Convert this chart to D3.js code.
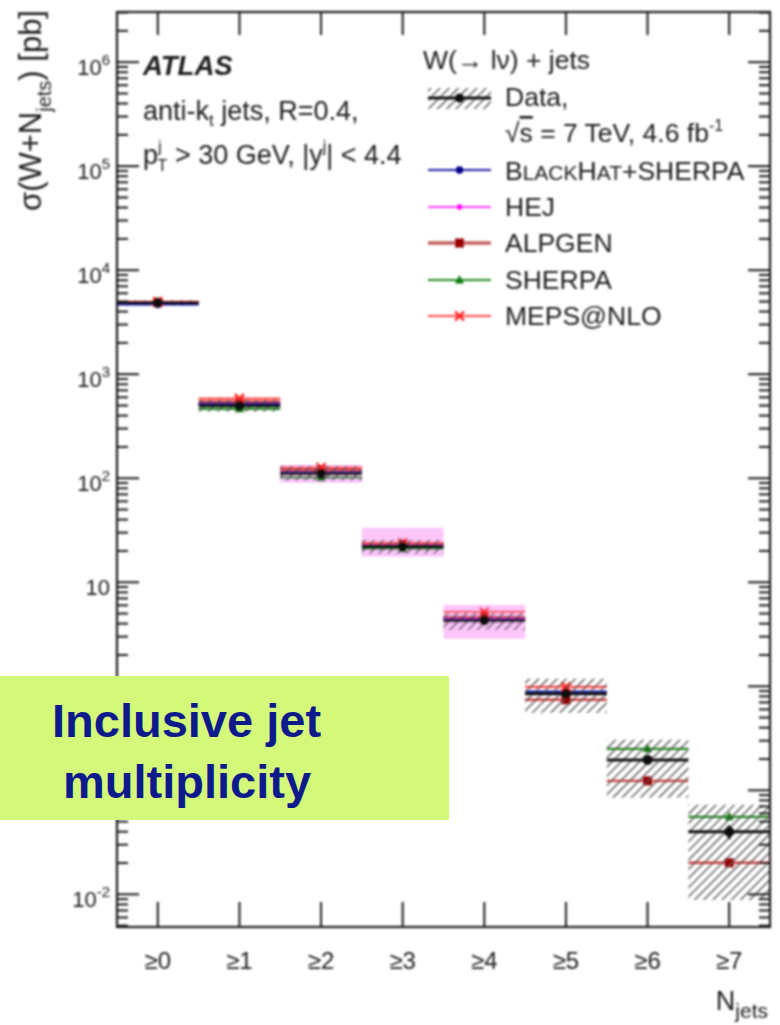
<!DOCTYPE html>
<html>
<head>
<meta charset="utf-8">
<script src="https://cdn.jsdelivr.net/npm/d3@7"></script>
<style>
  body { margin: 0; background: #fff; }
  svg { display: block; }
</style>
</head>
<body>
<svg id="chart" width="780" height="1025"></svg>
<script>
// Inclusive W(->lv)+jets cross sections vs. jet multiplicity
const categories = ["≥0", "≥1", "≥2", "≥3", "≥4", "≥5", "≥6", "≥7"];

// Measured cross sections [pb] and the edges of the systematic band
const dataXsec    = [4800, 492, 109, 21.7, 4.22, 0.838, 0.194, 0.0395];
const dataSysUp   = [5050, 560, 130, 25.3, 5.0, 1.17, 0.303, 0.0718];
const dataSysDown = [4560, 432, 94, 18.6, 3.45, 0.55, 0.084, 0.00875];
const dataStatRel = [0.002, 0.004, 0.008, 0.015, 0.03, 0.06, 0.09, 0.15];

// Theory predictions [pb]
const blackhatSherpa = [4650, 515, 112, 22.2, 4.31, 0.875, null, null];
const hej            = [null, null, 110, 23.5, 4.4, null, null, null];
const hejUp          = [null, null, 133, 33, 6.0, null, null, null];
const hejDown        = [null, null, 89.5, 17.4, 2.83, null, null, null];
const alpgen         = [4850, 538, 119, 23.2, 4.6, 0.733, 0.122, 0.0199];
const sherpa         = [4750, 460, 100, 20.7, 4.4, 0.86, 0.248, 0.055];
const mepsNlo        = [4900, 575, 125, 23.7, 5.15, 0.978, null, null];

// Axis ticks and the labelled decades
const yMajorTicks = [1e-2, 1e-1, 1, 10, 1e2, 1e3, 1e4, 1e5, 1e6];
const yLabelTicks = [1e-2, 10, 1e2, 1e3, 1e4, 1e5, 1e6];
const yLabelBase  = ["10", "10", "10", "10", "10", "10", "10"];
const yLabelExp   = ["-2", "", "2", "3", "4", "5", "6"];
const yMin = 4.8e-3, yMax = 3e6;

const FONT = "'Liberation Sans', Arial, Helvetica, sans-serif";
const INK = "#1c1c1c";
const plot = { left: 117, right: 770, top: 12, bottom: 927 };

const svg = d3.select("#chart");
const defs = svg.append("defs");
defs.append("filter").attr("id", "soft")
  .attr("x", "-5%").attr("y", "-5%").attr("width", "110%").attr("height", "110%")
  .append("feGaussianBlur").attr("stdDeviation", 0.8);
const hatch = defs.append("pattern").attr("id", "hatch")
  .attr("patternUnits", "userSpaceOnUse")
  .attr("width", 6.5).attr("height", 6.5)
  .attr("patternTransform", "rotate(45)");
hatch.append("line").attr("x1", 3).attr("y1", 0).attr("x2", 3).attr("y2", 6.5)
  .attr("stroke", "#4a4a4a").attr("stroke-width", 1.3);

const x = d3.scaleBand().domain(categories).range([plot.left, plot.right]).padding(0);
const y = d3.scaleLog().domain([yMin, yMax]).range([plot.bottom, plot.top]);
const bw = x.bandwidth();
const idx = d3.range(categories.length);

const g = svg.append("g").attr("filter", "url(#soft)").attr("font-family", FONT);

// HEJ uncertainty band
g.append("g").selectAll("rect")
  .data(idx.filter(i => hejUp[i] != null))
  .join("rect")
  .attr("x", i => x(categories[i])).attr("width", bw)
  .attr("y", i => y(hejUp[i]))
  .attr("height", i => y(hejDown[i]) - y(hejUp[i]))
  .attr("fill", "#fcc6fb");

// Theory predictions
const theories = [
  { values: sherpa, line: "#1f8a1f", fill: "#0a7a0a", marker: "triangle", width: 2.2 },
  { values: alpgen, line: "#cc4040", fill: "#9a0000", marker: "square", width: 2.4 },
  { values: hej, line: "#ff3cff", fill: "#ff00ff", marker: "dot", width: 2.2 },
  { values: blackhatSherpa, line: "#1c1ca8", fill: "#00008a", marker: "circle", width: 2.6 },
  { values: mepsNlo, line: "#ff4a4a", fill: "#ff1a1a", marker: "cross", width: 2.2 }
];

function drawMarker(sel, type, fill, cx, cy) {
  if (type === "circle") {
    sel.append("circle").attr("cx", cx).attr("cy", cy).attr("r", 3.8).attr("fill", fill);
  } else if (type === "dot") {
    sel.append("circle").attr("cx", cx).attr("cy", cy).attr("r", 2.8).attr("fill", fill);
  } else if (type === "square") {
    sel.append("rect").attr("x", cx - 4.5).attr("y", cy - 4.5).attr("width", 9).attr("height", 9).attr("fill", fill);
  } else if (type === "triangle") {
    sel.append("path").attr("d", `M${cx},${cy - 5}L${cx + 4.5},${cy + 3.5}L${cx - 4.5},${cy + 3.5}Z`).attr("fill", fill);
  } else if (type === "cross") {
    sel.append("path").attr("d", `M${cx - 4.5},${cy - 4.5}L${cx + 4.5},${cy + 4.5}M${cx + 4.5},${cy - 4.5}L${cx - 4.5},${cy + 4.5}`)
      .attr("stroke", fill).attr("stroke-width", 2.4);
  }
}

theories.forEach(t => {
  const tg = g.append("g");
  const pts = idx.filter(i => t.values[i] != null);
  tg.selectAll("line").data(pts).join("line")
    .attr("x1", i => x(categories[i])).attr("x2", i => x(categories[i]) + bw)
    .attr("y1", i => y(t.values[i])).attr("y2", i => y(t.values[i]))
    .attr("stroke", t.line).attr("stroke-width", t.width);
  pts.forEach(i => drawMarker(tg, t.marker, t.fill, x(categories[i]) + bw / 2, y(t.values[i])));
});

// Data: systematic band, central value, statistical error
const dg = g.append("g");
dg.selectAll("rect.sys").data(idx).join("rect").attr("class", "sys")
  .attr("x", i => x(categories[i])).attr("width", bw)
  .attr("y", i => y(dataSysUp[i]))
  .attr("height", i => y(dataSysDown[i]) - y(dataSysUp[i]))
  .attr("fill", "url(#hatch)");
dg.selectAll("line.val").data(idx).join("line").attr("class", "val")
  .attr("x1", i => x(categories[i])).attr("x2", i => x(categories[i]) + bw)
  .attr("y1", i => y(dataXsec[i])).attr("y2", i => y(dataXsec[i]))
  .attr("stroke", "#111").attr("stroke-width", 3);
dg.selectAll("line.stat").data(idx).join("line").attr("class", "stat")
  .attr("x1", i => x(categories[i]) + bw / 2).attr("x2", i => x(categories[i]) + bw / 2)
  .attr("y1", i => y(dataXsec[i] * (1 + dataStatRel[i])))
  .attr("y2", i => y(dataXsec[i] * (1 - dataStatRel[i])))
  .attr("stroke", "#111").attr("stroke-width", 3);
dg.selectAll("circle").data(idx).join("circle")
  .attr("cx", i => x(categories[i]) + bw / 2).attr("cy", i => y(dataXsec[i]))
  .attr("r", 5).attr("fill", "#111");

// Axes and frame
const minorTicks = [];
for (let e = -3; e <= 6; e++) {
  for (let k = 2; k <= 9; k++) {
    const v = k * Math.pow(10, e);
    if (v >= yMin && v <= yMax) minorTicks.push(v);
  }
}
function styleAxis(sel) {
  sel.select(".domain").remove();
  sel.selectAll(".tick line").attr("stroke", INK).attr("stroke-width", 2);
}
g.append("g").attr("transform", `translate(${plot.left},0)`)
  .call(d3.axisLeft(y).tickValues(yMajorTicks).tickSize(-22).tickFormat("")).call(styleAxis);
g.append("g").attr("transform", `translate(${plot.left},0)`)
  .call(d3.axisLeft(y).tickValues(minorTicks).tickSize(-11).tickFormat("")).call(styleAxis);
g.append("g").attr("transform", `translate(${plot.right},0)`)
  .call(d3.axisRight(y).tickValues(yMajorTicks).tickSize(-22).tickFormat("")).call(styleAxis);
g.append("g").attr("transform", `translate(${plot.right},0)`)
  .call(d3.axisRight(y).tickValues(minorTicks).tickSize(-11).tickFormat("")).call(styleAxis);
g.append("g").attr("transform", `translate(0,${plot.top})`)
  .call(d3.axisTop(x).tickSize(-23).tickFormat("")).call(styleAxis);
const xAxis = g.append("g").attr("transform", `translate(0,${plot.bottom})`)
  .call(d3.axisBottom(x).tickSize(-25).tickPadding(25)).call(styleAxis);
xAxis.attr("font-family", FONT).attr("font-size", 24);
xAxis.selectAll("text").attr("fill", INK);

g.append("rect")
  .attr("x", plot.left).attr("y", plot.top)
  .attr("width", plot.right - plot.left).attr("height", plot.bottom - plot.top)
  .attr("fill", "none").attr("stroke", INK).attr("stroke-width", 2.2);

// Y tick labels with exponents
g.append("g").selectAll("text").data(yLabelTicks).join("text")
  .attr("x", 110).attr("y", d => y(d) + 13)
  .attr("text-anchor", "end").attr("font-size", 22).attr("fill", INK)
  .each(function (d, i) {
    const t = d3.select(this);
    t.append("tspan").text(yLabelBase[i]);
    if (yLabelExp[i]) t.append("tspan").attr("dy", -10).attr("font-size", 15).text(yLabelExp[i]);
  });

// Axis titles
const yTitle = g.append("text")
  .attr("transform", "translate(41,10) rotate(-90)")
  .attr("text-anchor", "end").attr("font-size", 31).attr("fill", INK);
yTitle.append("tspan").text("σ(W+N");
yTitle.append("tspan").attr("dy", 10).attr("font-size", 20).text("jets");
yTitle.append("tspan").attr("dy", -10).text(") [pb]");

const xTitle = g.append("text")
  .attr("x", 768).attr("y", 1010).attr("text-anchor", "end")
  .attr("font-size", 27).attr("fill", INK);
xTitle.append("tspan").text("N");
xTitle.append("tspan").attr("dy", 8).attr("font-size", 21).text("jets");

// Labels in the upper left
g.append("text").attr("x", 143).attr("y", 75)
  .attr("font-size", 27.5).attr("font-weight", "bold").attr("font-style", "italic")
  .attr("fill", INK).text("ATLAS");
const l1 = g.append("text").attr("x", 143).attr("y", 120).attr("font-size", 27).attr("fill", INK);
l1.append("tspan").text("anti-k");
l1.append("tspan").attr("dy", 6).attr("font-size", 17).text("t");
l1.append("tspan").attr("dy", -6).text(" jets, R=0.4,");
const l2 = g.append("text").attr("x", 143).attr("y", 164).attr("font-size", 27).attr("fill", INK);
l2.append("tspan").text("p");
l2.append("tspan").attr("dy", -12).attr("font-size", 16).text("j");
l2.append("tspan").attr("dx", -4).attr("dy", 19).attr("font-size", 16).text("T");
l2.append("tspan").attr("dy", -7).text(" > 30 GeV, |y");
l2.append("tspan").attr("dy", -12).attr("font-size", 16).text("j");
l2.append("tspan").attr("dy", 12).text("| < 4.4");

// Legend
const lg = g.append("g").attr("font-size", 26.5).attr("fill", INK);
lg.append("text").attr("x", 423).attr("y", 69).text("W(→ lν) + jets");
const lx0 = 428, lx1 = 491, lmid = 459.5, ltx = 505;
lg.append("rect").attr("x", lx0).attr("y", 88).attr("width", lx1 - lx0).attr("height", 21).attr("fill", "url(#hatch)");
lg.append("line").attr("x1", lx0).attr("x2", lx1).attr("y1", 98).attr("y2", 98).attr("stroke", "#111").attr("stroke-width", 3);
lg.append("circle").attr("cx", lmid).attr("cy", 98).attr("r", 4.5).attr("fill", "#111");
lg.append("text").attr("x", ltx).attr("y", 106).text("Data,");
const sq = lg.append("text").attr("x", ltx).attr("y", 142);
sq.append("tspan").text("√");
sq.append("tspan").attr("text-decoration", "overline").text("s");
sq.append("tspan").text(" = 7 TeV, 4.6 fb");
sq.append("tspan").attr("dy", -11).attr("font-size", 16).text("-1");

const legendRows = [
  { y: 170, t: theories[3] },
  { y: 207, t: theories[2] },
  { y: 243, t: theories[1] },
  { y: 280, t: theories[0] },
  { y: 316, t: theories[4] }
];
legendRows.forEach(r => {
  const w = r.t.marker === "square" ? 3.4 : 2.2;
  const col = r.t.marker === "square" ? "#c46060" : r.t.line;
  lg.append("line").attr("x1", lx0).attr("x2", lx1).attr("y1", r.y).attr("y2", r.y)
    .attr("stroke", col).attr("stroke-width", w);
  drawMarker(lg, r.t.marker, r.t.fill, lmid, r.y);
});
const bh = lg.append("text").attr("x", ltx).attr("y", 180);
bh.append("tspan").text("B");
bh.append("tspan").attr("font-size", 21).text("LACK");
bh.append("tspan").text("H");
bh.append("tspan").attr("font-size", 21).text("AT");
bh.append("tspan").text("+SHERPA");
lg.append("text").attr("x", ltx).attr("y", 216).text("HEJ");
lg.append("text").attr("x", ltx).attr("y", 252).text("ALPGEN");
lg.append("text").attr("x", ltx).attr("y", 289).text("SHERPA");
lg.append("text").attr("x", ltx).attr("y", 325).text("MEPS@NLO");

// Title box
svg.append("rect").attr("x", 0).attr("y", 676).attr("width", 449).attr("height", 144).attr("fill", "#d4f97a");
const tb = svg.append("g").attr("font-family", FONT).attr("font-weight", "bold")
  .attr("font-size", 47).attr("fill", "#0c1a8c");
tb.append("text").attr("x", 52).attr("y", 737).text("Inclusive jet");
tb.append("text").attr("x", 63).attr("y", 798).text("multiplicity");
</script>
</body>
</html>
